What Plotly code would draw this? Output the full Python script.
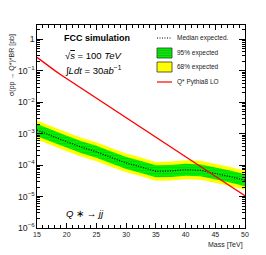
import plotly.graph_objects as go

# ---- data ----
mass = [15, 17.5, 20, 22.5, 25, 27.5, 30, 32.5, 35, 37.5, 40, 42.5, 45, 47.5, 50]
median_exp = [1.29e-3, 8.3e-4, 5.5e-4, 3.7e-4, 2.63e-4, 1.74e-4, 1.17e-4, 8.7e-5,
              6.3e-5, 6.5e-5, 7.1e-5, 6.8e-5, 5.5e-5, 4.3e-5, 3.3e-5]
green_up = [2.0e-3, 1.29e-3, 8.5e-4, 5.7e-4, 4.1e-4, 2.7e-4, 1.81e-4, 1.35e-4,
            9.8e-5, 1.01e-4, 1.10e-4, 1.05e-4, 8.5e-5, 6.7e-5, 5.1e-5]
green_lo = [8.3e-4, 5.4e-4, 3.55e-4, 2.39e-4, 1.70e-4, 1.12e-4, 7.5e-5, 5.6e-5,
            4.1e-5, 4.2e-5, 4.6e-5, 4.4e-5, 3.55e-5, 2.77e-5, 2.13e-5]
yellow_up = [2.6e-3, 1.66e-3, 1.1e-3, 7.4e-4, 5.3e-4, 3.5e-4, 2.34e-4, 1.74e-4,
             1.26e-4, 1.3e-4, 1.42e-4, 1.36e-4, 1.1e-4, 8.6e-5, 6.6e-5]
yellow_lo = [6.5e-4, 4.15e-4, 2.75e-4, 1.85e-4, 1.32e-4, 8.7e-5, 5.9e-5, 4.4e-5,
             3.15e-5, 3.25e-5, 3.55e-5, 3.4e-5, 2.75e-5, 2.15e-5, 1.65e-5]

theory_mass = [15, 16, 17, 18, 19, 20, 22, 24, 26, 28, 30, 32, 34, 36, 38, 40,
               42, 44, 46, 48, 50]
theory_xs = [0.263, 0.188, 0.136, 0.100, 0.0741, 0.0556, 0.0314, 0.0177, 0.0100,
             5.66e-3, 3.20e-3, 1.81e-3, 1.02e-3, 5.77e-4, 3.26e-4, 1.84e-4, 1.04e-4,
             5.87e-5, 3.32e-5, 1.87e-5, 1.06e-5]

legend_labels = ["Median expected.", "95% expected", "68% expected", "Q* Pythia8 LO"]

FONT = "Liberation Sans, Arial, sans-serif"
W, H = 266, 255
L, R, T, B = 37, 21, 25, 27
PW, PH = W - L - R, H - T - B

def px(x):
    return (x - L) / PW

def py(y):
    return (H - B - y) / PH

fig = go.Figure()
fig.add_trace(go.Scatter(x=mass, y=yellow_lo, mode="lines", line=dict(width=0),
                         showlegend=False, hoverinfo="skip"))
fig.add_trace(go.Scatter(x=mass, y=yellow_up, mode="lines", line=dict(width=0),
                         fill="tonexty", fillcolor="#ffff00", showlegend=False))
fig.add_trace(go.Scatter(x=mass, y=green_lo, mode="lines", line=dict(width=0),
                         showlegend=False, hoverinfo="skip"))
fig.add_trace(go.Scatter(x=mass, y=green_up, mode="lines", line=dict(width=0),
                         fill="tonexty", fillcolor="#00ee00",
                         fillpattern=dict(shape="-", bgcolor="#00f000", fgcolor="#22aa22",
                                          size=3, solidity=0.25),
                         showlegend=False))
fig.add_trace(go.Scatter(x=mass, y=median_exp, mode="lines",
                         line=dict(color="black", width=1.2, dash="1px,1.5px"), showlegend=False))
fig.add_trace(go.Scatter(x=theory_mass, y=theory_xs, mode="lines",
                         line=dict(color="#ff0000", width=1.4), showlegend=False))

shapes = []
ann = []
# manual legend
lx0, lx1, ltx = 157, 172, 175
rows = [38, 53, 67, 82]
shapes.append(dict(type="line", xref="paper", yref="paper", x0=px(lx0), x1=px(lx1),
                   y0=py(rows[0]), y1=py(rows[0]), line=dict(color="black", width=1, dash="1px,1.5px")))
shapes.append(dict(type="rect", xref="paper", yref="paper", x0=px(lx0), x1=px(lx1),
                   y0=py(48), y1=py(58), fillcolor="#00f000", line=dict(color="#333333", width=0.8)))
for yy in [50.5, 53, 55.5]:
    shapes.append(dict(type="line", xref="paper", yref="paper", x0=px(lx0 + 0.5), x1=px(lx1 - 0.5),
                       y0=py(yy), y1=py(yy), line=dict(color="#22aa22", width=0.8)))
shapes.append(dict(type="rect", xref="paper", yref="paper", x0=px(lx0), x1=px(lx1),
                   y0=py(62), y1=py(72), fillcolor="#ffff00", line=dict(color="#333333", width=0.8)))
shapes.append(dict(type="line", xref="paper", yref="paper", x0=px(lx0), x1=px(lx1),
                   y0=py(rows[3]), y1=py(rows[3]), line=dict(color="#ff0000", width=1.2)))
for lab, yy in zip(legend_labels, rows):
    ann.append(dict(text=lab, xref="paper", yref="paper", x=px(ltx), y=py(yy),
                    xanchor="left", yanchor="middle", showarrow=False,
                    font=dict(family=FONT, size=6.5, color="#222222")))

# texts
ann.append(dict(text="<b>FCC simulation</b>", xref="paper", yref="paper", x=px(62), y=py(38),
                xanchor="left", yanchor="middle", showarrow=False,
                font=dict(family=FONT, size=9, color="black")))
ann.append(dict(text="√<span style='text-decoration:overline'><i>s</i></span> = 100 <i>TeV</i>",
                xref="paper", yref="paper", x=px(63), y=py(55),
                xanchor="left", yanchor="middle", showarrow=False,
                font=dict(family=FONT, size=9.5, color="black")))
ann.append(dict(text="∫<i>Ldt</i> = 30<i>ab</i><sup>−1</sup>", xref="paper", yref="paper",
                x=px(63), y=py(70), xanchor="left", yanchor="middle", showarrow=False,
                font=dict(family=FONT, size=9.5, color="black")))
ann.append(dict(text="<i>Q</i> ∗ → <i>jj</i>", xref="paper", yref="paper", x=px(64), y=py(213),
                xanchor="left", yanchor="middle", showarrow=False,
                font=dict(family=FONT, size=9.5, color="black")))
ann.append(dict(text="σ(pp → Q*)*BR [pb]", xref="paper", yref="paper", x=px(12), y=py(65),
                xanchor="center", yanchor="middle", textangle=-90, showarrow=False,
                font=dict(family=FONT, size=7, color="#222222")))
ann.append(dict(text="Mass [TeV]", xref="paper", yref="paper", x=1, y=py(245),
                xanchor="right", yanchor="middle", showarrow=False,
                font=dict(family=FONT, size=7, color="#222222")))

fig.update_layout(
    width=W, height=H, margin=dict(l=L, r=R, t=T, b=B),
    paper_bgcolor="white", plot_bgcolor="white",
    shapes=shapes, annotations=ann, showlegend=False,
    xaxis=dict(range=[15, 50], tick0=15, dtick=5, ticks="inside", ticklen=5,
               tickcolor="black", showline=True, linecolor="black", linewidth=1,
               mirror="ticks", showgrid=False, zeroline=False,
               tickfont=dict(family=FONT, size=7, color="#222222"),
               minor=dict(ticks="inside", ticklen=3, dtick=1, tickcolor="black", showgrid=False)),
    yaxis=dict(type="log", range=[-6, 0.45], dtick=1, ticks="inside", ticklen=6,
               tickcolor="black", showline=True, linecolor="black", linewidth=1,
               mirror="ticks", showgrid=False, zeroline=False, exponentformat="power",
               tickfont=dict(family=FONT, size=7, color="#222222"),
               minor=dict(ticks="inside", ticklen=3, dtick="D1", tickcolor="black", showgrid=False)),
)

fig.write_html("out.html", config={"displayModeBar": False},
               post_script="document.body.style.margin='0px';")
